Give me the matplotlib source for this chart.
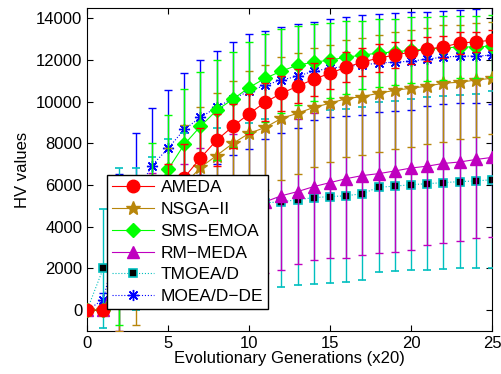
import matplotlib
matplotlib.use('Agg')
import matplotlib.pyplot as plt

plt.rcParams['font.family'] = ['Liberation Sans', 'DejaVu Sans']
plt.rcParams['font.size'] = 12

gens = list(range(26))

ameda = [0, 0, 1500, 3000, 4300, 5400, 6360, 7300, 8150, 8820, 9420, 9980, 10400, 10750, 11080,
         11370, 11660, 11900, 12100, 12240, 12390, 12530, 12630, 12820, 12870, 12960]
ameda_err = [0, 0, 800, 1200, 1500, 1600, 1600, 1450, 1250, 1050, 950, 900, 850, 800, 780,
             750, 720, 680, 650, 620, 580, 560, 540, 520, 500, 480]

nsga2 = [0, 0, 1000, 2200, 3500, 4800, 6000, 6850, 7420, 8000, 8480, 8770, 9200, 9450, 9730,
         9930, 10150, 10250, 10410, 10550, 10650, 10750, 10890, 10940, 11040, 11130]
nsga2_err = [0, 0, 2000, 2900, 3000, 3000, 2900, 2900, 3000, 3000, 3000, 3000, 2950, 2900, 2850,
             2800, 2800, 2800, 2800, 2800, 2800, 2800, 2800, 2750, 2750, 2700]

smsemoa = [0, 0, 1800, 3800, 5400, 6750, 7950, 8820, 9590, 10120, 10680, 11130, 11470, 11760, 11900,
           12000, 12140, 12240, 12340, 12390, 12480, 12530, 12580, 12630, 12630, 12680]
smsemoa_err = [0, 0, 2500, 2600, 2600, 2600, 2650, 2600, 2400, 2270, 2200, 2100, 2000, 1900, 1850,
               1800, 1750, 1650, 1650, 1600, 1600, 1550, 1550, 1500, 1500, 1500]

rmmeda = [0, 0, 2500, 3300, 3900, 4300, 4600, 4800, 4950, 5050, 5120, 5200, 5490, 5690, 5930,
          6120, 6310, 6460, 6550, 6680, 6820, 6910, 7040, 7110, 7230, 7330]
rmmeda_err = [0, 0, 3500, 3000, 2700, 2500, 2400, 3000, 3300, 3400, 3400, 3420, 3560, 3470, 3520,
              3610, 3800, 3810, 3800, 3880, 3930, 3780, 3810, 3780, 3760, 3810]

tmoead = [0, 2000, 2800, 3400, 3900, 4300, 4600, 4800, 4950, 5050, 5100, 5150, 5200, 5300, 5400,
          5450, 5490, 5590, 5900, 5950, 6020, 6070, 6120, 6170, 6200, 6260]
tmoead_err = [0, 2850, 4000, 3400, 3430, 3900, 3900, 3850, 3800, 3850, 3900, 4000, 4090, 4100, 4150,
              4150, 4140, 4140, 4070, 4070, 4090, 4140, 4140, 4170, 4180, 4240]

moeadde = [0, 500, 3700, 5500, 6940, 7760, 8670, 9250, 9730, 10150, 10500, 10800, 11040, 11230, 11470,
           11610, 11700, 11760, 11860, 11900, 11950, 12050, 12140, 12190, 12190, 12240]
moeadde_err = [0, 300, 2850, 2980, 2750, 2790, 2700, 2750, 2700, 2720, 2750, 2600, 2560, 2500, 2360,
               2360, 2370, 2410, 2360, 2360, 2340, 2260, 2240, 2230, 2270, 2360]

labels = ['AMEDA', 'NSGA\u2212II', 'SMS\u2212EMOA', 'RM\u2212MEDA', 'TMOEA/D', 'MOEA/D\u2212DE']
brown = '#b8860b'

fig = plt.figure(figsize=(5.01, 3.74), dpi=100)
ax = fig.add_axes([0.1737, 0.115, 0.8083, 0.8636])

kw = dict(capsize=3, elinewidth=1, capthick=1, lw=0.8)
h6 = ax.errorbar(gens, moeadde, yerr=moeadde_err, color='b', ls=':', marker=(8, 2, 0), ms=8,
                 mew=1, zorder=2, **kw)
h5 = ax.errorbar(gens, tmoead, yerr=tmoead_err, color='c', ls=':', marker='s', ms=6,
                 mfc='k', mec='c', mew=1.2, zorder=3, **kw)
h4 = ax.errorbar(gens, rmmeda, yerr=rmmeda_err, color='m', ls='-', marker='^', ms=9,
                 mfc='m', mec='m', zorder=4, **kw)
h2 = ax.errorbar(gens, nsga2, yerr=nsga2_err, color=brown, ls='-', marker='*', ms=10,
                 mfc=brown, mec=brown, zorder=5, **kw)
h3 = ax.errorbar(gens, smsemoa, yerr=smsemoa_err, color='#00ff00', ls='-', marker='D', ms=7,
                 mfc='#00ff00', mec='#00ff00', zorder=6, **kw)
h1 = ax.errorbar(gens, ameda, yerr=ameda_err, color='r', ls='-', marker='o', ms=9,
                 mfc='r', mec='r', zorder=7, **kw)

ax.set_xlim(0, 25)
ax.set_ylim(-1000, 14500)
ax.set_xticks([0, 5, 10, 15, 20, 25])
ax.set_yticks(range(0, 14001, 2000))
ax.tick_params(direction='in', top=True, right=True, length=4, width=0.8)
ax.set_xlabel('Evolutionary Generations (x20)', labelpad=0)
ax.set_ylabel('HV values', labelpad=4)

leg = ax.legend([h1[0], h2[0], h3[0], h4[0], h5[0], h6[0]], labels,
                loc='upper left', bbox_to_anchor=(0.049, 0.483), fancybox=False,
                edgecolor='k', framealpha=1, handlelength=2.4, labelspacing=0.38,
                borderpad=0.3, handletextpad=0.4, borderaxespad=0, fontsize=12.5)
leg.get_frame().set_linewidth(1)
leg.set_zorder(10)

fig.savefig('out.png', dpi=100)
